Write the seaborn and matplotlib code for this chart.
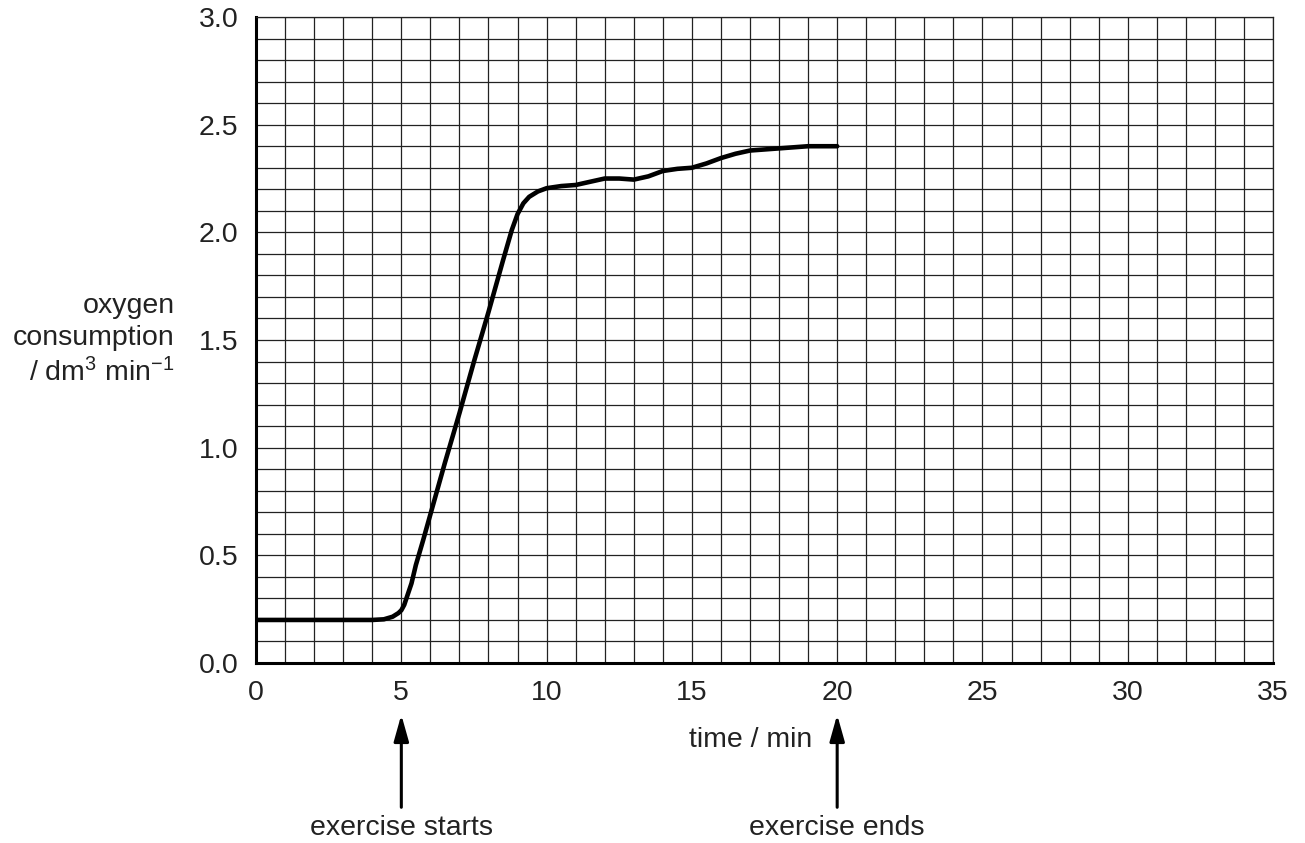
import pandas as pd
import matplotlib
matplotlib.use("Agg")
import matplotlib.pyplot as plt
from matplotlib.ticker import MultipleLocator, FormatStrFormatter
import seaborn as sns

# values
time_min = [0, 1, 2, 3, 4, 4.4, 4.7, 4.9, 5.0, 5.1, 5.2, 5.35, 5.5, 5.75,
            6, 6.5, 7, 7.5, 8, 8.5, 8.8, 9.0, 9.2, 9.4, 9.7, 10, 10.5, 11,
            11.5, 12, 12.5, 13, 13.5, 14, 14.5, 15, 15.5, 16, 16.5, 17, 17.5,
            18, 18.5, 19, 19.5, 20]
oxygen = [0.20, 0.20, 0.20, 0.20, 0.20, 0.203, 0.215, 0.232, 0.245, 0.27,
          0.31, 0.37, 0.455, 0.57, 0.69, 0.93, 1.16, 1.40, 1.63, 1.87, 2.01,
          2.085, 2.135, 2.165, 2.19, 2.205, 2.215, 2.22, 2.235, 2.25, 2.25,
          2.245, 2.26, 2.285, 2.295, 2.30, 2.32, 2.345, 2.365, 2.38, 2.385,
          2.39, 2.395, 2.40, 2.40, 2.40]

x_ticks = [0, 5, 10, 15, 20, 25, 30, 35]
y_ticks = [0.0, 0.5, 1.0, 1.5, 2.0, 2.5, 3.0]
events = [(5, "exercise starts"), (20, "exercise ends")]


def make_plot():
    sns.set_style("white")
    plt.rcParams["font.family"] = ["Liberation Sans", "DejaVu Sans"]
    plt.rcParams["mathtext.fontset"] = "custom"
    plt.rcParams["mathtext.rm"] = "Liberation Sans"
    plt.rcParams["mathtext.it"] = "Liberation Sans"

    fig = plt.figure(figsize=(13.05, 8.43), dpi=100)
    ax = fig.add_axes([0.1962, 0.2135, 0.7793, 0.7663])

    df = pd.DataFrame({"time": time_min, "oxygen": oxygen})
    sns.lineplot(data=df, x="time", y="oxygen", ax=ax, color="black",
                 linewidth=3.3, zorder=5)
    ax.lines[0].set_solid_joinstyle("round")
    ax.lines[0].set_solid_capstyle("round")

    ax.set_xlim(0, 35)
    ax.set_ylim(0, 3.0)
    ax.set_xticks(x_ticks)
    ax.set_yticks(y_ticks)
    ax.yaxis.set_major_formatter(FormatStrFormatter("%.1f"))
    ax.xaxis.set_minor_locator(MultipleLocator(1))
    ax.yaxis.set_minor_locator(MultipleLocator(0.1))
    ax.grid(True, which="both", color="#222222", linewidth=0.9)
    ax.set_axisbelow(True)

    ax.tick_params(which="major", direction="out", length=7.5, width=2,
                   labelsize=20.5, pad=5, colors="black")
    ax.tick_params(which="minor", length=0)
    ax.tick_params(axis="both", labelcolor="#222222")

    for side in ["left", "bottom"]:
        ax.spines[side].set_linewidth(2.2)
        ax.spines[side].set_color("black")
    for side in ["top", "right"]:
        ax.spines[side].set_linewidth(0.9)
        ax.spines[side].set_color("#222222")

    ax.set_xlabel("")
    ax.set_ylabel("")
    fig.text(0.5755, 0.122, "time / min", fontsize=20.5, ha="center",
             va="center", color="#222222")
    fig.text(0.134, 0.5967, "oxygen\nconsumption\n/ dm$^3$ min$^{-1}$",
             fontsize=20.5, ha="right", va="center", color="#222222",
             multialignment="right", linespacing=1.3)

    for x, label in events:
        ax.annotate("", xy=(x, -0.24), xytext=(x, -0.67),
                    annotation_clip=False,
                    arrowprops=dict(arrowstyle="-|>,head_length=1.6,head_width=0.45",
                                    color="black", lw=2.2, shrinkA=0, shrinkB=0))
        ax.text(x, -0.765, label, fontsize=20.5, ha="center", va="center",
                color="#222222", clip_on=False)

    fig.savefig("out.png", dpi=100)


def main():
    make_plot()


if __name__ == "__main__":
    main()
